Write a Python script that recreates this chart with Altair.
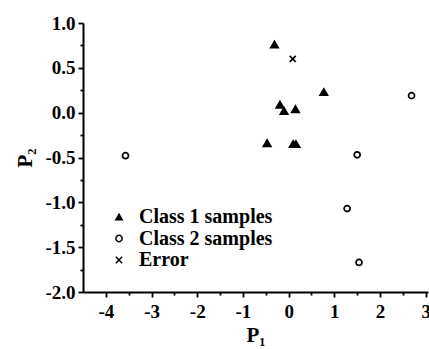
import altair as alt
import pandas as pd

# ---- data ----
class_names = ["Class 1 samples", "Class 2 samples", "Error"]
class1_x = [-0.31, 0.77, -0.19, -0.10, 0.15, -0.47, 0.10, 0.16]
class1_y = [0.76, 0.23, 0.09, 0.02, 0.04, -0.34, -0.35, -0.35]
class2_x = [-3.57, 2.69, 1.50, 1.28, 1.54]
class2_y = [-0.48, 0.19, -0.47, -1.07, -1.67]
error_x = [0.09]
error_y = [0.60]

x_major = [-4, -3, -2, -1, 0, 1, 2, 3]
x_minor = [-3.5, -2.5, -1.5, -0.5, 0.5, 1.5, 2.5]
y_major = [1.0, 0.5, 0.0, -0.5, -1.0, -1.5, -2.0]
y_minor = [0.75, 0.25, -0.25, -0.75, -1.25, -1.75]

rows = []
for xs, ys, name in [(class1_x, class1_y, class_names[0]),
                     (class2_x, class2_y, class_names[1]),
                     (error_x, error_y, class_names[2])]:
    for a, b in zip(xs, ys):
        rows.append({"P1": a, "P2": b, "cls": name})
df = pd.DataFrame(rows)

FONT = "Liberation Serif"
xscale = alt.Scale(domain=[-4.5, 3.05], nice=False, zero=False)
yscale = alt.Scale(domain=[-2.0, 1.0], nice=False, zero=False)

cross_path = "M-1,-1L1,1M-1,1L1,-1"

lbl_x = "(datum.value < 0 ? '-' : '') + format(abs(datum.value), 'd')"
lbl_y = "(datum.value < 0 ? '-' : '') + format(abs(datum.value), '.1f')"

legend = alt.Legend(title=None, orient="none", legendX=26, legendY=184,
                    labelFont=FONT, labelFontSize=20, labelFontWeight="bold",
                    labelColor="black", symbolSize=40, symbolStrokeWidth=1.5,
                    labelOffset=10, rowPadding=1.5, padding=0)

minor = alt.Chart(df).mark_point(size=0, strokeOpacity=0).encode(
    x=alt.X("P1:Q", scale=xscale,
            axis=alt.Axis(values=x_minor, labels=False, domain=False, orient="bottom",
                          title=None, tickSize=3, tickWidth=1.8, grid=False)),
    y=alt.Y("P2:Q", scale=yscale,
            axis=alt.Axis(values=y_minor, labels=False, domain=False, orient="left",
                          title=None, tickSize=3, tickWidth=1.8, grid=False)),
)

points = alt.Chart(df).mark_point(strokeWidth=1.7, opacity=1).encode(
    x=alt.X("P1:Q", scale=xscale,
            axis=alt.Axis(values=x_major, labelExpr=lbl_x, orient="bottom", title="P₁",
                          tickSize=5, tickWidth=1.8, domainWidth=2, labelPadding=5,
                          titlePadding=3)),
    y=alt.Y("P2:Q", scale=yscale,
            axis=alt.Axis(values=y_major, labelExpr=lbl_y, orient="left", title="P₂",
                          tickSize=5, tickWidth=1.8, domainWidth=2, labelPadding=3,
                          titlePadding=9)),
    shape=alt.Shape("cls:N", scale=alt.Scale(domain=class_names,
                                             range=["triangle-up", "circle", cross_path]),
                    legend=legend),
    fill=alt.Fill("cls:N", scale=alt.Scale(domain=class_names,
                                           range=["black", "white", "white"]),
                  legend=legend),
    stroke=alt.Stroke("cls:N", scale=alt.Scale(domain=class_names,
                                               range=["black", "black", "black"]),
                      legend=legend),
    size=alt.condition(alt.datum.cls == class_names[0], alt.value(55), alt.value(36)),
)

chart = alt.layer(points, minor).resolve_axis(x="independent", y="independent").properties(
    width=345, height=269,
    background="white",
    autosize=alt.AutoSizeParams(type="none"),
    padding={"left": 83, "top": 23, "right": 1, "bottom": 57},
).configure_view(stroke=None).configure_axis(
    labelFont=FONT, labelFontSize=19, labelFontWeight="bold", labelColor="black",
    titleFont=FONT, titleFontSize=21, titleFontWeight="bold", titleColor="black",
    domainColor="black", tickColor="black", grid=False,
)

chart.save("out.html", embed_options={"renderer": "svg", "actions": False})
